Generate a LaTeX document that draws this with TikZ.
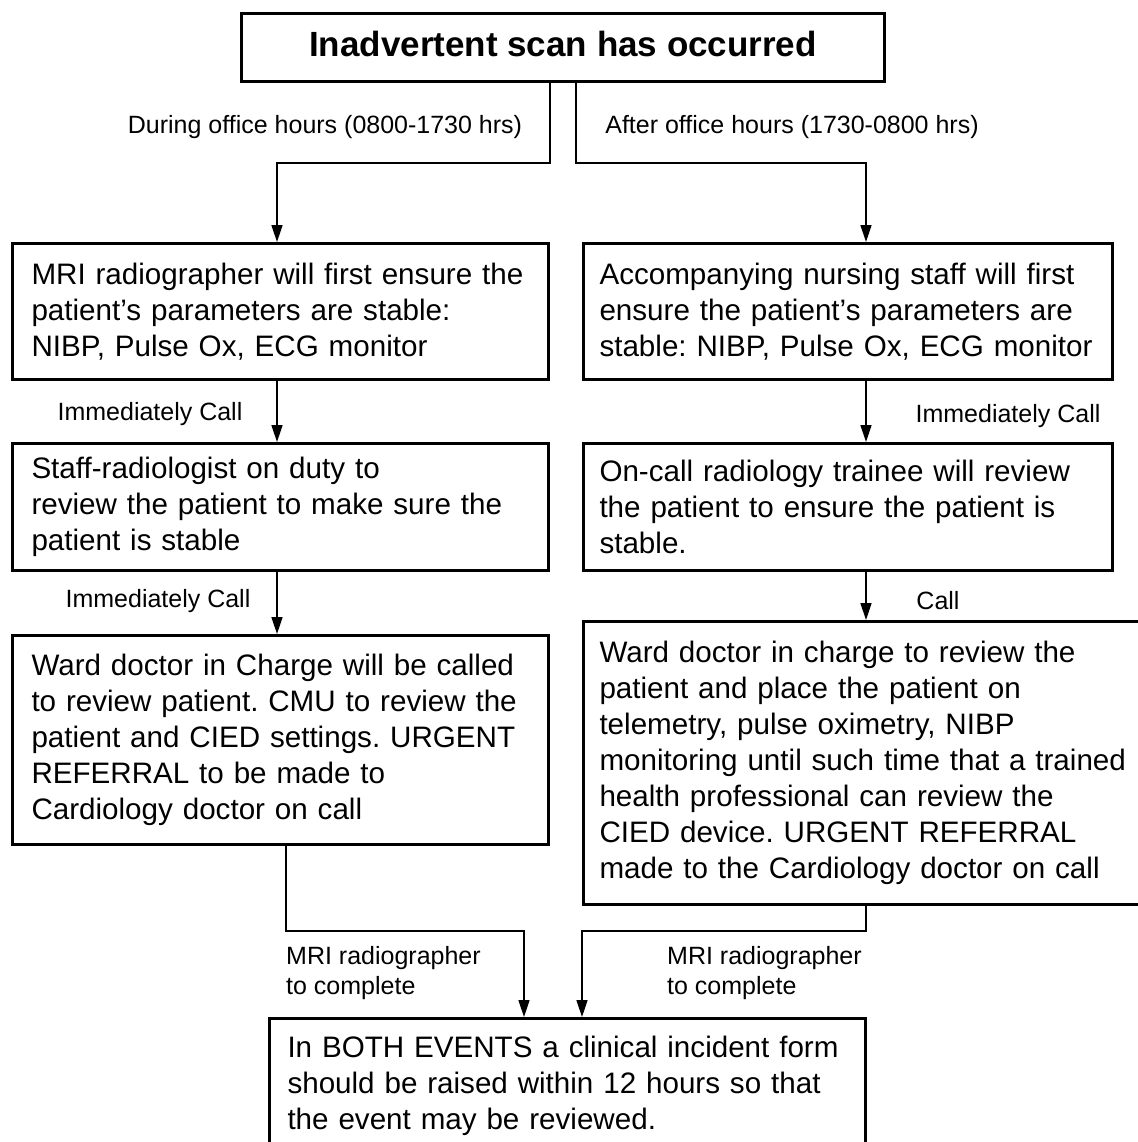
\documentclass[tikz,border=0pt]{standalone}
\usepackage{fontspec}
\setmainfont{Liberation Sans}
\usetikzlibrary{arrows.meta,calc}
\begin{document}
\frenchspacing
\hyphenpenalty=10000
\begin{tikzpicture}[x=1pt,y=-1pt,
  box/.style={draw, line width=3pt, anchor=north west, inner ysep=0pt, align=left,
    font=\fontsize{29.6}{36}\selectfont\frenchspacing},
  lbox/.style={box, inner xsep=19pt, text width=498pt, minimum width=536pt},
  rbox/.style={box, inner xsep=16pt, text width=497pt, minimum width=529pt},
  lbl/.style={font=\fontsize{25}{30}\selectfont, inner sep=0pt, align=left},
  arr/.style={line width=1.6pt, -{Triangle[length=17pt,width=11pt]}},
  ln/.style={line width=1.6pt}]
\useasboundingbox (0,0) rectangle (1137,1142);

\node[draw, line width=3pt, minimum width=643pt, minimum height=68pt, text depth=8pt,
  font=\bfseries\fontsize{35}{40}\selectfont] (top) at (563,47.5) {Inadvertent scan has occurred};

\node[lbox, minimum height=136pt] (L1) at (11,242)
  {MRI radiographer will first ensure the\\patient’s parameters are stable:\\NIBP, Pulse Ox, ECG monitor};
\node[rbox, minimum height=136pt] (R1) at (582,242)
  {Accompanying nursing staff will first\\ensure the patient’s parameters are\\stable: NIBP, Pulse Ox, ECG monitor};

\node[lbox, minimum height=127pt] (L2) at (11,442)
  {Staff-radiologist on duty to\\review the patient to make sure the\\patient is stable};
\node[rbox, minimum height=127pt] (R2) at (582,442)
  {On-call radiology trainee will review\\the patient to ensure the patient is\\stable.};

\node[lbox, minimum height=209pt] (L3) at (11,634)
  {Ward doctor in Charge will be called\\to review patient. CMU to review the\\patient and CIED settings. URGENT\\REFERRAL to be made to\\Cardiology doctor on call};
\node[box, inner xsep=16pt, text width=538pt, minimum width=570pt, minimum height=283pt] (R3) at (582,620)
  {Ward doctor in charge to review the\\patient and place the patient on\\telemetry, pulse oximetry, NIBP\\monitoring until such time that a trained\\health professional can review the\\CIED device. URGENT REFERRAL\\made to the Cardiology doctor on call};

\node[box, inner xsep=18pt, text width=560pt, minimum width=596pt, minimum height=134pt] (B) at (268,1017)
  {In BOTH EVENTS a clinical incident form\\should be raised within 12 hours so that\\the event may be reviewed.};

% labels
\node[lbl] (t1) at (325,127) {During office hours (0800-1730 hrs)};
\node[lbl] (t2) at (792,127) {After office hours (1730-0800 hrs)};
\node[lbl] (t3) at (150,414) {Immediately Call};
\node[lbl] (t4) at (1008,416) {Immediately Call};
\node[lbl] (t5) at (158,601) {Immediately Call};
\node[lbl] (t6) at (938,601) {Call};
\node[lbl, anchor=north west] (t7) at (286,946) {MRI radiographer\\to complete};
\node[lbl, anchor=north west] (t8) at (667,946) {MRI radiographer\\to complete};

% connector columns and corners
\coordinate (xa) at (550,0);
\coordinate (xb) at (576,0);
\coordinate (cl) at (277,0);
\coordinate (cr) at (866,0);
\coordinate (xl3) at (286,0);
\coordinate (j1) at (277,163);
\coordinate (j2) at (866,163);
\coordinate (j3) at (524,931);
\coordinate (j4) at (582,931);
\draw[arr] (top.south -| xa) |- (j1) -- (L1.north -| j1);
\draw[arr] (top.south -| xb) |- (j2) -- (R1.north -| j2);
\draw[arr] (L1.south -| cl) -- (L2.north -| cl);
\draw[arr] (R1.south -| cr) -- (R2.north -| cr);
\draw[arr] (L2.south -| cl) -- (L3.north -| cl);
\draw[arr] (R2.south -| cr) -- (R3.north -| cr);
\draw[arr] (L3.south -| xl3) |- (j3) -- (B.north -| j3);
\draw[arr] (R3.south -| cr) |- (j4) -- (B.north -| j4);
\end{tikzpicture}
\end{document}
